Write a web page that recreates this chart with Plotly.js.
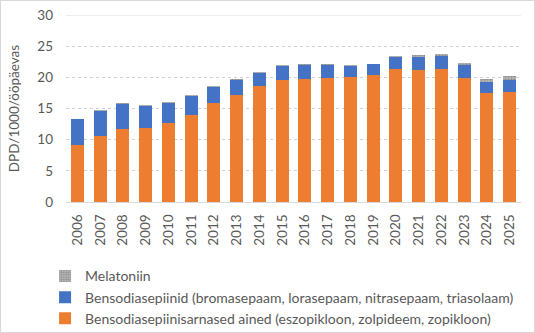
<!DOCTYPE html>
<html><head><meta charset="utf-8">
<script src="https://cdn.plot.ly/plotly-3.0.1.min.js"></script>
<style>body{margin:0}#wrap{position:relative;width:535px;height:333px}#frame{position:absolute;left:0;top:0;width:533px;height:331px;border:1px solid #d9d9d9;pointer-events:none}</style>
</head><body>
<div id="wrap"><div id="chart" style="width:535px;height:333px"></div><div id="frame"></div></div>
<script>
const years = ['2006','2007','2008','2009','2010','2011','2012','2013','2014','2015','2016','2017','2018','2019','2020','2021','2022','2023','2024','2025'];
const zLike = [9.14,10.6,11.7,11.9,12.7,13.96,15.9,17.17,18.6,19.57,19.73,19.9,20.05,20.37,21.3,21.2,21.3,19.9,17.5,17.65];
const benzo = [4.16,4.0,4.0,3.5,3.2,3.04,2.55,2.4,2.1,2.23,2.25,2.08,1.75,1.77,1.96,2.06,2.1,2.08,1.75,1.92];
const melatonin = [0,0.15,0.18,0.16,0.15,0.17,0.15,0.16,0.16,0.16,0.15,0.12,0.15,0,0.15,0.3,0.3,0.35,0.5,0.65];
const yTicks = [0,5,10,15,20,25,30];

const fam = 'Lato, "Liberation Sans", sans-serif';
const data = [
  {type:'bar', name:'Bensodiasepiinisarnased ained (eszopikloon, zolpideem, zopikloon)', x:years, y:zLike, marker:{color:'#ED7D31'}},
  {type:'bar', name:'Bensodiasepiinid (bromasepaam, lorasepaam, nitrasepaam, triasolaam)', x:years, y:benzo, marker:{color:'#4472C4'}},
  {type:'bar', name:'Melatoniin', x:years, y:melatonin, marker:{color:'#A5A5A5', pattern:{shape:'.', fgcolor:'#8c8c8c', bgcolor:'#b5b5b5', size:3, solidity:0.4}}}
];
const layout = {
  width:535, height:333, barmode:'stack', bargap:0.43,
  margin:{l:66, r:14, t:15, b:131, autoexpand:false},
  paper_bgcolor:'#fff', plot_bgcolor:'#fff', font:{family:fam, size:13, color:'#595959'},
  xaxis:{type:'category', tickangle:-90, showline:true, linecolor:'#d9d9d9', ticks:'', ticklabelstandoff:6, tickfont:{size:13.5,color:'#595959'}},
  yaxis:{range:[0,30], tickvals:yTicks, showgrid:true, gridcolor:'#d0d0d0', griddash:'dot', zeroline:false, ticks:'', ticklabelstandoff:12, tickfont:{size:13.5,color:'#595959'},
         title:{text:'DPD/1000/ööpäevas', font:{size:13.5,color:'#595959'}, standoff:14}},
  showlegend:true,
  legend:{traceorder:'reversed', orientation:'v', x:-0.046, xanchor:'left', y:-0.312, yanchor:'top', font:{size:14,color:'#595959'}, itemwidth:30, tracegroupgap:0},
  shapes:[{type:'line', xref:'paper', yref:'y', x0:0, x1:1, y0:30, y1:30, line:{color:'#d9d9d9', width:1}}]
};
Plotly.newPlot('chart', data, layout, {displayModeBar:false, staticPlot:true});
</script>
</body></html>
